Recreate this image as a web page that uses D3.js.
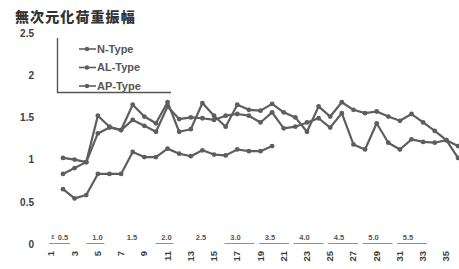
<!DOCTYPE html>
<html>
<head>
<meta charset="utf-8">
<script src="https://cdn.jsdelivr.net/npm/d3@7"></script>
<style>
  body { margin: 0; background: #fff; }
  text { font-family: "Liberation Sans", Arial, sans-serif; font-weight: bold; fill: #3d3d3d; }
  .title { font-family: "Noto Sans CJK JP", sans-serif; font-weight: 900; fill: #333; }
</style>
</head>
<body>
<svg id="chart" width="459" height="269"></svg>
<script>
// load cycle number (every cycle is a point)
const categories = [1, 2, 3, 4, 5, 6, 7, 8, 9, 10, 11, 12, 13, 14, 15, 16, 17, 18,
    19, 20, 21, 22, 23, 24, 25, 26, 27, 28, 29, 30, 31, 32, 33, 34, 35];

const nType = [1.02, 1.00, 0.97, 1.52, 1.39, 1.35, 1.65, 1.51, 1.43, 1.68, 1.33, 1.36,
    1.67, 1.52, 1.39, 1.65, 1.59, 1.58, 1.66, 1.56, 1.50, 1.33, 1.63, 1.51, 1.68,
    1.59, 1.55, 1.57, 1.51, 1.46, 1.54, 1.44, 1.34, 1.23, 1.02];

const alType = [0.83, 0.90, 0.97, 1.31, 1.38, 1.35, 1.47, 1.40, 1.33, 1.63, 1.48, 1.50,
    1.49, 1.47, 1.52, 1.54, 1.52, 1.44, 1.56, 1.37, 1.39, 1.44, 1.49, 1.38, 1.55,
    1.18, 1.12, 1.43, 1.20, 1.12, 1.24, 1.21, 1.20, 1.23, 1.16];

// AP-Type stops after 19 cycles
const apType = [0.65, 0.54, 0.58, 0.83, 0.83, 0.83, 1.09, 1.03, 1.03, 1.13, 1.07, 1.04,
    1.11, 1.06, 1.05, 1.12, 1.10, 1.10, 1.16];

const seriesNames = ["N-Type", "AL-Type", "AP-Type"];

const yTicks = [0, 0.5, 1, 1.5, 2, 2.5];
const xTickLabels = [1, 3, 5, 7, 9, 11, 13, 15, 17, 19, 21, 23, 25, 27, 29, 31, 33, 35];

// hand written amplitude row above the cycle numbers
const rowLabels = ["0.5", "1.0", "1.5", "2.0", "2.5", "3.0", "3.5", "4.0", "4.5", "5.0", "5.5"];
const rowValues = [0.5, 1.0, 1.5, 2.0, 2.5, 3.0, 3.5, 4.0, 4.5, 5.0, 5.5];
const rowUnderlined = ["0.5", "1.0", "2.0", "3.0", "3.5", "4.0", "4.5", "5.0", "5.5"];

const ink = "#5e5e5e";

const svg = d3.select("#chart");

const x = d3.scaleLinear().domain([1, 35]).range([63, 458]);
const y = d3.scaleLinear().domain([0, 2.5]).range([244, 33]);
const step = x(2) - x(1);

// title
svg.append("text")
    .attr("class", "title")
    .attr("x", 15).attr("y", 22)
    .style("font-size", "14px")
    .style("letter-spacing", "1.1px")
    .text("無次元化荷重振幅");

// y axis, labels only
const yAxis = d3.axisLeft(y)
    .tickValues(yTicks)
    .tickSize(0)
    .tickPadding(0)
    .tickFormat(d => d);

svg.append("g")
    .attr("transform", "translate(34,0)")
    .call(yAxis)
    .call(g => g.select(".domain").remove())
    .selectAll("text")
        .style("font-size", "10px")
        .style("font-family", "Liberation Sans, Arial, sans-serif")
        .style("font-weight", "bold")
        .attr("fill", "#3d3d3d");

// cycle numbers, rotated, sitting one step left of their point
svg.append("g")
    .selectAll("text")
    .data(xTickLabels)
    .join("text")
        .attr("transform", d => `translate(${x(d) - step + 3},251) rotate(-90)`)
        .attr("text-anchor", "end")
        .style("font-size", "9.5px")
        .text(d => d);

// amplitude row
const rowX = d3.scaleLinear().domain([0.5, 5.5]).range([x(1), x(30.7)]);
const row = svg.append("g").attr("fill", "#555");
row.selectAll("text")
    .data(rowLabels)
    .join("text")
        .attr("x", (d, i) => rowX(rowValues[i]))
        .attr("y", 240)
        .attr("text-anchor", "middle")
        .style("font-size", "7.5px")
        .style("fill", "#555")
        .text(d => d);
row.append("text")
    .attr("x", 53).attr("y", 239)
    .attr("text-anchor", "middle")
    .style("font-size", "7px").style("fill", "#666")
    .text("ε");
row.selectAll("line")
    .data(rowUnderlined)
    .join("line")
        .attr("x1", d => rowX(+d) - (d === "0.5" ? 14 : 11))
        .attr("x2", d => rowX(+d) + (+d >= 3 ? 19 : 7))
        .attr("y1", 243.5).attr("y2", 243.5)
        .attr("stroke", "#777")
        .attr("stroke-width", 0.8);

// series
const line = d3.line()
    .x((d, i) => x(categories[i]))
    .y(d => y(d));

const series = [nType, alType, apType];

const layer = svg.append("g");
layer.selectAll("path")
    .data(series)
    .join("path")
        .attr("d", line)
        .attr("fill", "none")
        .attr("stroke", ink)
        .attr("stroke-width", 2.2)
        .attr("stroke-linejoin", "round");

layer.selectAll("g")
    .data(series)
    .join("g")
    .selectAll("circle")
    .data(d => d)
    .join("circle")
        .attr("cx", (d, i) => x(categories[i]))
        .attr("cy", d => y(d))
        .attr("r", 2.4)
        .attr("fill", ink);

// legend: only the left and bottom edges of its box are drawn
const legend = svg.append("g");
legend.append("path")
    .attr("d", "M57.5,38V92.5H171")
    .attr("fill", "none")
    .attr("stroke", "#555")
    .attr("stroke-width", 1.4);

const item = legend.selectAll("g.item")
    .data(seriesNames)
    .join("g")
        .attr("class", "item")
        .attr("transform", (d, i) => `translate(0,${49 + i * 18.5})`);
item.append("line")
    .attr("x1", 79).attr("x2", 96)
    .attr("stroke", ink).attr("stroke-width", 1.6);
item.append("circle")
    .attr("cx", 87).attr("r", 2.2).attr("fill", ink);
item.append("text")
    .attr("x", 97).attr("dy", "0.36em")
    .style("font-size", "11px")
    .style("fill", "#555")
    .text(d => d);
</script>
</body>
</html>
